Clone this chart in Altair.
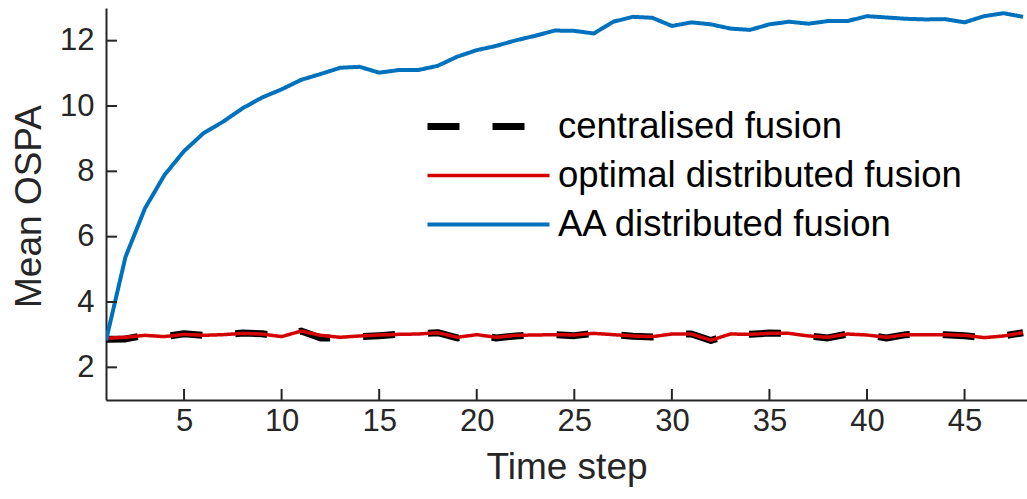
import altair as alt
import pandas as pd

time_steps = list(range(1, 49))

aa_fusion = [2.82, 5.38, 6.87, 7.89, 8.62, 9.17, 9.52, 9.93, 10.26, 10.51,
             10.80, 10.98, 11.17, 11.20, 11.02, 11.10, 11.10, 11.23, 11.51, 11.71,
             11.84, 12.01, 12.15, 12.31, 12.30, 12.22, 12.58, 12.73, 12.70, 12.45,
             12.56, 12.50, 12.37, 12.33, 12.50, 12.58, 12.52, 12.60, 12.60, 12.75,
             12.71, 12.67, 12.65, 12.66, 12.56, 12.75, 12.84, 12.73]

optimal_fusion = [2.89, 2.92, 2.98, 2.94, 3.01, 2.98, 3.00, 3.04, 3.02, 2.94,
                  3.11, 2.98, 2.92, 2.96, 2.99, 3.01, 3.02, 3.06, 2.92, 3.00,
                  2.92, 2.98, 2.99, 3.00, 2.99, 3.04, 3.00, 2.96, 2.94, 3.02,
                  3.02, 2.83, 3.02, 3.01, 3.04, 3.04, 2.96, 2.92, 3.02, 2.99,
                  2.92, 3.00, 3.00, 3.00, 2.98, 2.91, 2.96, 3.06]

central_fusion = [2.86, 2.87, 2.98, 2.94, 3.03, 2.98, 3.00, 3.05, 3.03, 2.94,
                  3.11, 2.90, 2.90, 2.94, 2.97, 3.01, 3.02, 3.06, 2.90, 3.00,
                  2.90, 2.96, 2.99, 3.00, 2.97, 3.04, 3.00, 2.95, 2.93, 3.02,
                  3.02, 2.82, 3.02, 3.01, 3.05, 3.04, 2.96, 2.90, 3.02, 2.99,
                  2.90, 3.00, 3.01, 3.00, 2.97, 2.91, 2.96, 3.06]

series_names = ["centralised fusion", "optimal distributed fusion", "AA distributed fusion"]
series_colors = ["#000000", "#d40000", "#0072bd"]
series_dashes = [[32, 33], [1, 0], [1, 0]]
series_widths = [7, 3.5, 4]

x_ticks = [5, 10, 15, 20, 25, 30, 35, 40, 45]
y_ticks = [2, 4, 6, 8, 10, 12]

rows = []
for name, vals in zip(series_names, [central_fusion, optimal_fusion, aa_fusion]):
    for t, v in zip(time_steps, vals):
        rows.append({"t": t, "v": v, "series": name})
df = pd.DataFrame(rows)

FONT = "Liberation Sans"
AX = "#262626"
W, H = 921, 392

x_scale = alt.Scale(domain=[1, 48.2], nice=False, zero=False)
y_scale = alt.Scale(domain=[1, 13], nice=False, zero=False)

x_enc = alt.X("t:Q", scale=x_scale,
              axis=alt.Axis(values=x_ticks, title="Time step", ticks=False, grid=False,
                            domainColor=AX, domainWidth=2, labelFont=FONT, labelFontSize=31,
                            labelColor=AX, labelPadding=6, titleFont=FONT, titleFontSize=37,
                            titleFontWeight="normal", titleColor=AX, titleBaseline="alphabetic",
                            titleY=78))
y_enc = alt.Y("v:Q", scale=y_scale,
              axis=alt.Axis(values=y_ticks, title="Mean OSPA", ticks=False, grid=False,
                            domainColor=AX, domainWidth=2, labelFont=FONT, labelFontSize=31,
                            labelColor=AX, labelPadding=12, titleFont=FONT, titleFontSize=37,
                            titleFontWeight="normal", titleColor=AX, titleX=-58, titleY=198,
                            titleAngle=270, titleAlign="center", titleBaseline="bottom"))

leg = alt.Legend(title=None)
color_enc = alt.Color("series:N", scale=alt.Scale(domain=series_names, range=series_colors), legend=leg)
dash_enc = alt.StrokeDash("series:N", scale=alt.Scale(domain=series_names, range=series_dashes), legend=leg)
width_enc = alt.StrokeWidth("series:N", scale=alt.Scale(type="ordinal", domain=series_names, range=series_widths), legend=leg)

layers = []
for name in series_names:
    layers.append(
        alt.Chart(df).transform_filter(alt.datum.series == name)
        .mark_line(clip=True, strokeCap="butt", strokeJoin="round")
        .encode(x=x_enc, y=y_enc, color=color_enc, strokeDash=dash_enc, strokeWidth=width_enc,
                order=alt.Order("t:Q"))
    )

xt = pd.DataFrame({"t": x_ticks})
yt = pd.DataFrame({"v": y_ticks})
x_tick_marks = alt.Chart(xt).mark_rule(color=AX, strokeWidth=2).encode(
    x=alt.X("t:Q", scale=x_scale), y=alt.value(H), y2=alt.value(H - 11))
y_tick_marks = alt.Chart(yt).mark_rule(color=AX, strokeWidth=2).encode(
    y=alt.Y("v:Q", scale=y_scale), x=alt.value(0), x2=alt.value(11))

chart = alt.layer(*layers, x_tick_marks, y_tick_marks).properties(
    width=W, height=H,
    background="white",
    autosize=alt.AutoSizeParams(type="none"),
    padding={"left": 106, "top": 8, "right": 0, "bottom": 99},
).configure_view(stroke=None).configure_legend(
    orient="none", legendX=318, legendY=94, symbolType="stroke", symbolSize=14884,
    labelFont=FONT, labelFontSize=36.5, labelColor="#000000", labelOffset=5, labelLimit=0,
    clipHeight=49, rowPadding=0, symbolStrokeWidth=4,
)

chart.save("out.html", embed_options={"renderer": "svg", "actions": False})
